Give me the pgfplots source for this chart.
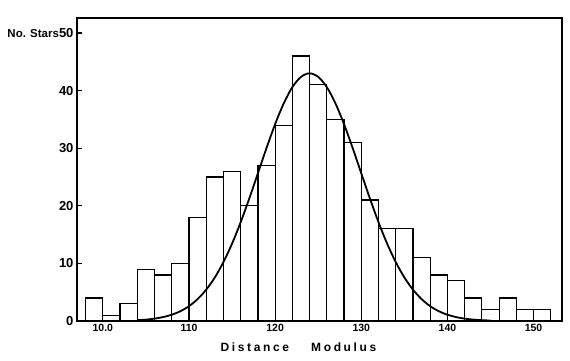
\documentclass[border=0pt]{standalone}
\usepackage{fontspec}
\setmainfont{Liberation Sans}
\usepackage{pgfplots}
\pgfplotsset{compat=1.18}
\begin{document}
\begin{tikzpicture}
\begin{axis}[
  scale only axis, width=485pt, height=303pt,
  xmin=9.7, xmax=15.33, ymin=0, ymax=52.6,
  axis line style={line width=1.4pt},
  ytick={0,10,20,30,40,50},
  yticklabels={0,10,20,30,40,{\fontsize{11.5}{12}\selectfont No. Stars}50},
  xtick={10,11,12,13,14,15},
  xticklabels={10.0,110,120,130,140,150},
  x tick style={draw=none},
  y tick style={line width=1.2pt, black},
  tick align=inside, ytick pos=left, xtick pos=bottom,
  major tick length=5pt,
  yticklabel style={font=\bfseries\fontsize{13}{13}\selectfont},
  xticklabel style={font=\bfseries\fontsize{10.5}{10.5}\selectfont, yshift=0pt},
  /pgf/number format/assume math mode=true,
  xlabel={Distance\hspace{22pt}Modulus},
  xlabel style={font=\bfseries\fontsize{12}{12}\selectfont\addfontfeature{LetterSpace=22}, xshift=-21pt, yshift=-4pt},
  clip=false,
]
\addplot[ybar interval, draw=black, fill=white, line width=1.2pt] coordinates {
(9.8,4)(10.0,1)(10.2,3)(10.4,9)(10.6,8)(10.8,10)(11.0,18)(11.2,25)(11.4,26)(11.6,20)
(11.8,27)(12.0,34)(12.2,46)(12.4,41)(12.6,35)(12.8,31)(13.0,21)(13.2,16)(13.4,16)(13.6,11)
(13.8,8)(14.0,7)(14.2,4)(14.4,2)(14.6,4)(14.8,2)(15.0,2)(15.2,2)};
\addplot[black, line width=1.8pt, smooth, no marks] coordinates {
(10.4,0.14)(10.5,0.24)(10.6,0.41)(10.7,0.68)(10.8,1.09)(10.9,1.70)(11.0,2.57)(11.1,3.80)
(11.2,5.44)(11.3,7.56)(11.4,10.23)(11.5,13.43)(11.6,17.15)(11.7,21.27)(11.8,25.64)(11.9,30.03)
(12.0,34.17)(12.1,37.78)(12.2,40.60)(12.3,42.38)(12.4,43.00)(12.5,42.38)(12.6,40.60)(12.7,37.78)
(12.8,34.17)(12.9,30.03)(13.0,25.64)(13.1,21.27)(13.2,17.15)(13.3,13.43)(13.4,10.23)(13.5,7.56)
(13.6,5.44)(13.7,3.80)(13.8,2.57)(13.9,1.70)(14.0,1.09)(14.1,0.68)(14.2,0.41)(14.3,0.24)
(14.4,0.14)(14.5,0.08)};
\end{axis}
\path (current axis.south west) ++(-77pt,-40pt) rectangle ++(570pt,361pt);
\end{tikzpicture}
\end{document}
